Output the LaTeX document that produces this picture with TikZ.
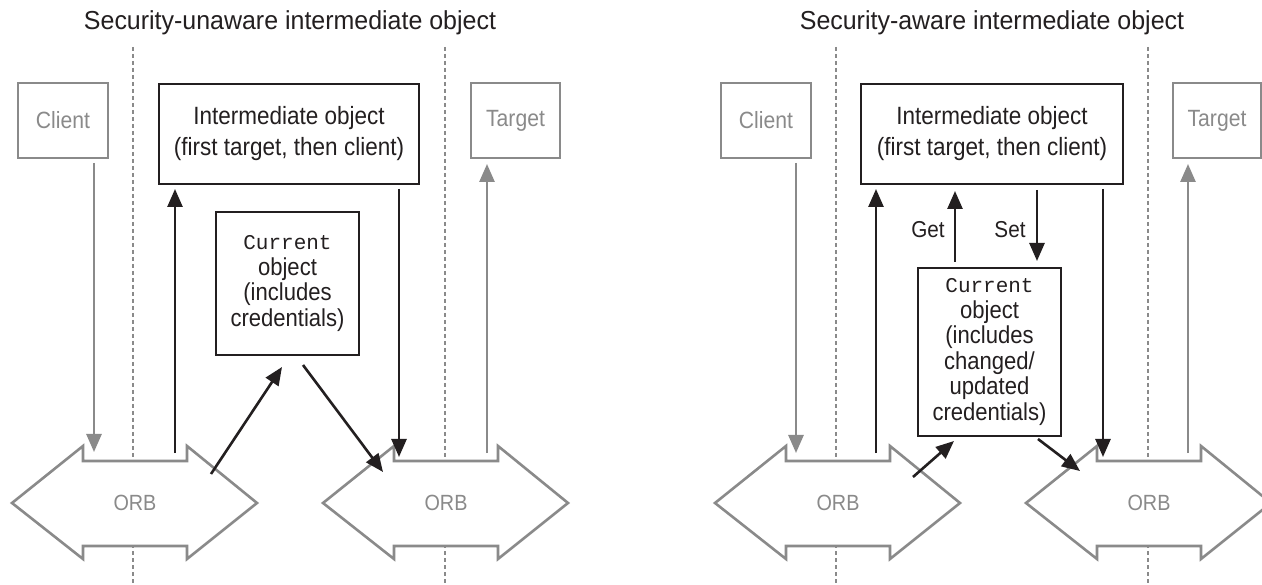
\documentclass[tikz,border=0pt]{standalone}
\usepackage{fontspec}
\setmainfont{Liberation Sans}[FakeStretch=0.9]
\newfontfamily\headfont{Liberation Sans}[FakeStretch=0.96]
\newfontfamily\codefont{Liberation Mono}
\usetikzlibrary{arrows.meta}

\definecolor{ink}{HTML}{231F20}
\definecolor{mute}{HTML}{8A8A8A}

\tikzset{
  heading/.style={font=\headfont\fontsize{26}{30}\selectfont, text=ink, anchor=base, inner sep=0pt},
  greybox/.style={draw=mute, line width=2.9pt, text=mute, inner sep=0pt,
    font=\fontsize{23.5}{28}\selectfont},
  inkbox/.style={draw=ink, line width=2.9pt, text=ink, inner sep=0pt, align=center},
  divider/.style={draw=mute, line width=2.2pt, dash pattern=on 4pt off 3pt},
  orbshape/.style={draw=mute, fill=white, line width=2.6pt, line join=miter},
  orblabel/.style={text=mute, inner sep=0pt, font=\fontsize{22}{26}\selectfont},
  flowk/.style={draw=ink, line width=2.6pt, -{Triangle[length=18pt,width=15pt]}},
  flowg/.style={draw=mute, line width=2.6pt, -{Triangle[length=18pt,width=15pt]}},
  tag/.style={text=ink, inner sep=0pt, font=\fontsize{23}{27}\selectfont},
  orb/.pic={
    \draw[orbshape] (-122.5,0) -- (-51.5,-57) -- (-51.5,-42) -- (52.5,-42) -- (52.5,-57)
      -- (122.5,0) -- (52.5,56) -- (52.5,43) -- (-51.5,43) -- (-51.5,56) -- cycle;
    \node[orblabel] (-label) at (0.5,0) {ORB};
  }
}

\begin{document}
\begin{tikzpicture}[x=1pt,y=-1pt]
\useasboundingbox (0,0) rectangle (1262,585);
\clip (0,0) rectangle (1262,585);
\fill[white] (0,0) rectangle (1262,585);

% headings
\node[heading] (headA) at (290,30) {Security-unaware intermediate object};
\node[heading] (headB) at (992,30) {Security-aware intermediate object};

% process boundaries
\draw[divider] (133,47) -- (133,585);
\draw[divider] (445,47) -- (445,585);
\draw[divider] (836,47) -- (836,585);
\draw[divider] (1148,47) -- (1148,585);

% ORBs
\pic (orbA) at (134.5,503) {orb};
\pic (orbB) at (445.5,503) {orb};
\pic (orbC) at (837.5,503) {orb};
\pic (orbD) at (1148.5,503) {orb};

% ---- left: security-unaware ----
\node[greybox, minimum width=90pt, minimum height=75pt] (clientA) at (63,120.5) {Client};
\node[greybox, minimum width=89pt, minimum height=75pt] (targetA) at (515.5,120.5) {Target};
\node[inkbox, minimum width=260pt, minimum height=100pt, font=\fontsize{25}{31}\selectfont]
  (interA) at (289,134) {Intermediate object\\(first target, then client)};
\node[inkbox, minimum width=143pt, minimum height=143pt, font=\fontsize{24.5}{25.5}\selectfont]
  (currA) at (287.5,283.5) {{\codefont\fontsize{21}{25.5}\selectfont Current}\\object\\(includes\\credentials)};

\coordinate (cAout) at (94,163);   \coordinate (oAin)  at (94,452);
\coordinate (oAup)  at (175,453);  \coordinate (iAin)  at (175,189);
\coordinate (iAout) at (399,189);  \coordinate (oBin)  at (399,457);
\coordinate (oBup)  at (487,453);  \coordinate (tAin)  at (487,164);
\coordinate (oAx)   at (211,474);  \coordinate (kAin)  at (282,367);
\coordinate (kAout) at (303,365);  \coordinate (oBx)   at (383,472);

\draw[flowg] (cAout) -- (oAin);
\draw[flowk] (oAup) -- (iAin);
\draw[flowk] (iAout) -- (oBin);
\draw[flowg] (oBup) -- (tAin);
\draw[flowk] (oAx) -- (kAin);
\draw[flowk] (kAout) -- (oBx);

% ---- right: security-aware ----
\node[greybox, minimum width=90pt, minimum height=75pt] (clientB) at (766,120.5) {Client};
\node[greybox, minimum width=88pt, minimum height=75pt] (targetB) at (1217,120.5) {Target};
\node[inkbox, minimum width=262pt, minimum height=100pt, font=\fontsize{25}{31}\selectfont]
  (interB) at (992,134) {Intermediate object\\(first target, then client)};
\node[inkbox, minimum width=143pt, minimum height=168pt, font=\fontsize{24.5}{25.5}\selectfont]
  (currB) at (989.5,352) {{\codefont\fontsize{21}{25.5}\selectfont Current}\\object\\(includes\\changed/\\updated\\credentials)};
\node[tag] (getB) at (928,230) {Get};
\node[tag] (setB) at (1010,230) {Set};

\coordinate (cBout) at (796,163);  \coordinate (oCin)  at (796,453);
\coordinate (oCup)  at (876,453);  \coordinate (iBin)  at (876,189);
\coordinate (kBget) at (955,262);  \coordinate (iBget) at (955,191);
\coordinate (iBset) at (1037,190); \coordinate (kBset) at (1037,261);
\coordinate (iBout) at (1103,189); \coordinate (oDin)  at (1103,457);
\coordinate (oDup)  at (1188,453); \coordinate (tBin)  at (1188,164);
\coordinate (oCx)   at (913,477);  \coordinate (kBin)  at (954,441);
\coordinate (kBout) at (1038,439); \coordinate (oDx)   at (1080,471);

\draw[flowg] (cBout) -- (oCin);
\draw[flowk] (oCup) -- (iBin);
\draw[flowk] (kBget) -- (iBget);
\draw[flowk] (iBset) -- (kBset);
\draw[flowk] (iBout) -- (oDin);
\draw[flowg] (oDup) -- (tBin);
\draw[flowk] (oCx) -- (kBin);
\draw[flowk] (kBout) -- (oDx);
\end{tikzpicture}
\end{document}
